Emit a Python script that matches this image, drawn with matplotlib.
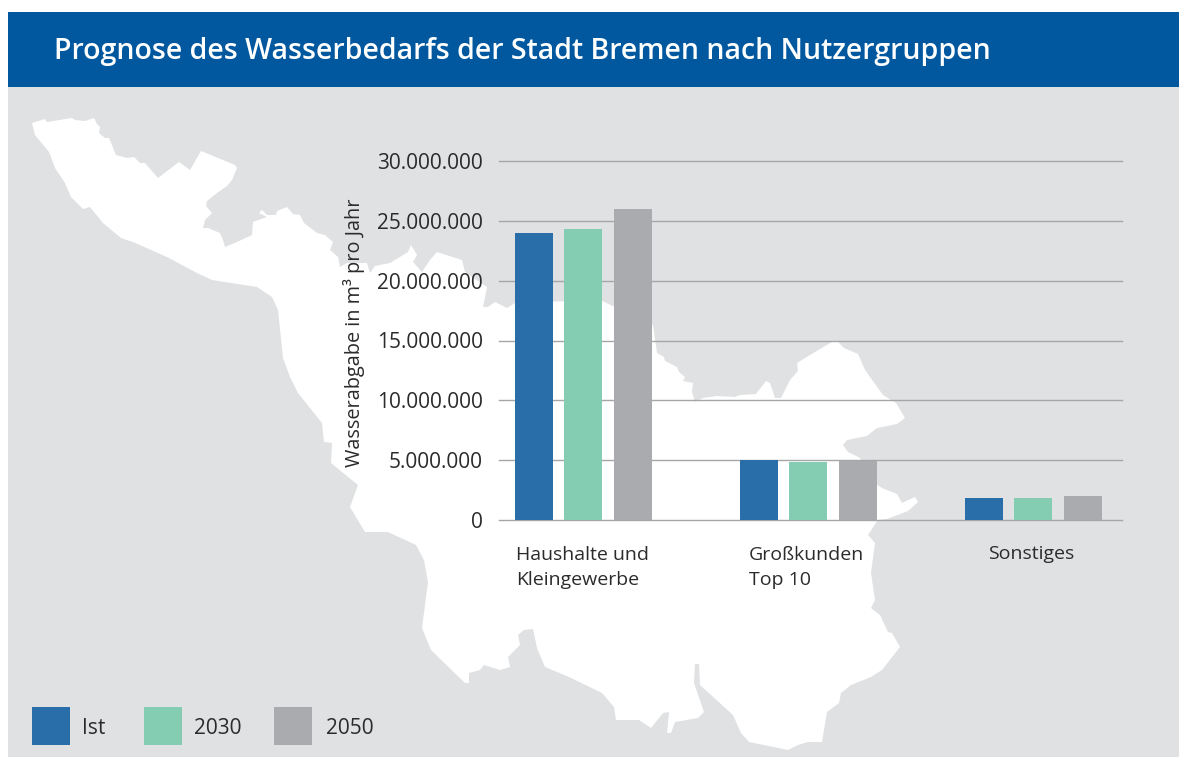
import matplotlib
matplotlib.use("Agg")
import matplotlib.pyplot as plt
from matplotlib.patches import Polygon, Rectangle

categories = ["Haushalte und\nKleingewerbe", "Großkunden\nTop 10", "Sonstiges"]
series_names = ["Ist", "2030", "2050"]
ist = [24000000, 5000000, 1850000]
y2030 = [24300000, 4850000, 1850000]
y2050 = [26000000, 4950000, 2000000]
yticks = [0, 5000000, 10000000, 15000000, 20000000, 25000000, 30000000]
title = "Prognose des Wasserbedarfs der Stadt Bremen nach Nutzergruppen"
ylabel = "Wasserabgabe in m³ pro Jahr"

BLUE, GREEN, GRAY = "#2a6ea9", "#84cdb2", "#aaabaf"
W, H = 1179, 758

# decorative silhouette of the city, in picture pixels
map_outline = [
    (32,123),(45,119),(47,122),(72,118),(75,120),(85,121),(94,118),(97,124),(100,127),(99,133),(105,138),(109,138),
    (116,155),(127,158),(134,157),(140,163),(145,163),(158,178),(179,162),(190,170),(201,151),(235,165),(237,168),
    (232,180),(227,186),(217,193),(207,201),(206,206),(212,213),(205,220),(203,228),(208,228),(220,233),(223,240),
    (225,247),(237,242),(252,235),(253,222),(267,217),(259,213),(262,210),(267,215),(276,215),(277,211),(287,207),
    (293,214),(300,215),(304,223),(317,233),(325,235),(333,242),(330,250),(338,257),(340,267),(347,263),(367,263),
    (370,273),(375,266),(390,263),(408,252),(411,245),(417,255),(413,262),(422,272),(430,260),(437,252),(462,260),
    (465,272),(472,277),(487,287),(483,307),(488,307),(495,302),(507,308),(515,303),(600,300),(653,325),(657,353),
    (664,357),(665,361),(677,367),(679,372),(685,377),(683,381),(693,383),(692,392),(695,402),(703,398),(717,396),
    (735,397),(740,395),(756,394),(766,381),(770,383),(775,398),(781,398),(790,380),(798,371),(797,363),(815,352),
    (832,342),(838,342),(844,348),(858,354),(865,370),(883,395),(896,403),(905,418),(897,424),(877,428),(867,436),
    (847,440),(843,445),(848,452),(860,458),(870,480),(882,488),(897,494),(902,503),(915,497),(918,502),(908,511),
    (887,519),(878,520),(868,535),(875,543),(871,573),(875,600),(871,608),(880,615),(888,632),(892,633),(900,647),
    (882,670),(871,677),(851,685),(841,693),(839,703),(827,712),(822,742),(808,742),(798,745),(788,750),(749,742),
    (741,733),(733,715),(700,685),(699,664),(695,664),(694,683),(704,712),(698,718),(675,722),(671,733),(667,733),
    (669,712),(663,713),(651,728),(639,720),(616,720),(614,707),(602,693),(569,677),(545,667),(537,648),(533,629),
    (524,630),(518,635),(520,645),(508,657),(510,667),(500,670),(484,665),(480,670),(469,673),(469,683),(465,683),
    (431,650),(422,628),(428,582),(424,560),(416,545),(388,532),(365,532),(350,507),(358,485),(331,463),(332,443),
    (324,442),(322,423),(298,393),(290,377),(283,358),(278,310),(272,297),(257,287),(212,280),(197,273),(167,257),
    (133,242),(121,238),(103,223),(90,207),(83,209),(71,197),(65,183),(55,168),(49,152),(35,135),
]

plt.rcParams["font.family"] = ["Open Sans", "DejaVu Sans"]
fig = plt.figure(figsize=(W / 100, H / 100), dpi=100, facecolor="white")

bg = fig.add_axes([0, 0, 1, 1])
bg.set_xlim(0, W)
bg.set_ylim(H, 0)
bg.axis("off")
bg.add_patch(Rectangle((8, 87), W - 8, 670, fc="#e0e1e3", ec="none"))
bg.add_patch(Rectangle((8, 12), W - 8, 75, fc="#01589f", ec="none"))
bg.add_patch(Polygon(map_outline, closed=True, fc="white", ec="none"))
bg.text(54, 52, title, color="white", fontsize=20.55, fontweight=600, va="center", ha="left")

# legend
for name, color, sx, tx in zip(series_names, [BLUE, GREEN, GRAY], [32, 144, 274], [82, 194, 326]):
    bg.add_patch(Rectangle((sx, 707), 38, 38, fc=color, ec="none"))
    bg.text(tx, 729, name, color="#2b2b2b", fontsize=15, va="center", ha="left")

# chart
left, right, bottom, top = 499, 1122, 520, 161
ax = fig.add_axes([left / W, 1 - bottom / H, (right - left) / W, (bottom - top) / H])
ax.patch.set_alpha(0)
step = 225
ax.set_xlim((left - 583.3) / step, (right - 583.3) / step)
ax.set_ylim(0, 30000000)
xs = list(range(len(categories)))
bw = 38 / step
off = 49.5 / step
ax.bar([x - off for x in xs], ist, bw, color=BLUE, zorder=3)
ax.bar(xs, y2030, bw, color=GREEN, zorder=3)
ax.bar([x + off for x in xs], y2050, bw, color=GRAY, zorder=3)

for s in ax.spines.values():
    s.set_visible(False)
ax.set_yticks(yticks)
ax.set_yticklabels([f"{v:,}".replace(",", ".") for v in yticks], fontsize=15, color="#2b2b2b")
ax.tick_params(axis="y", length=0, pad=11.7)
ax.set_xticks([])
ax.grid(axis="y", color="#a5a6a8", linewidth=1.0, zorder=1)
for gl in ax.get_ygridlines():
    gl.set_clip_on(False)

for label, x, y in zip(categories, [516, 749, 988], [567.5, 567.5, 554]):
    bg.text(x, y, label, fontsize=14, color="#2b2b2b", ha="left", va="center", linespacing=1.5)

bg.text(354, 333, ylabel, rotation=90, fontsize=14.3, color="#2b2b2b", ha="center", va="center")

fig.savefig("out.png", dpi=100)
